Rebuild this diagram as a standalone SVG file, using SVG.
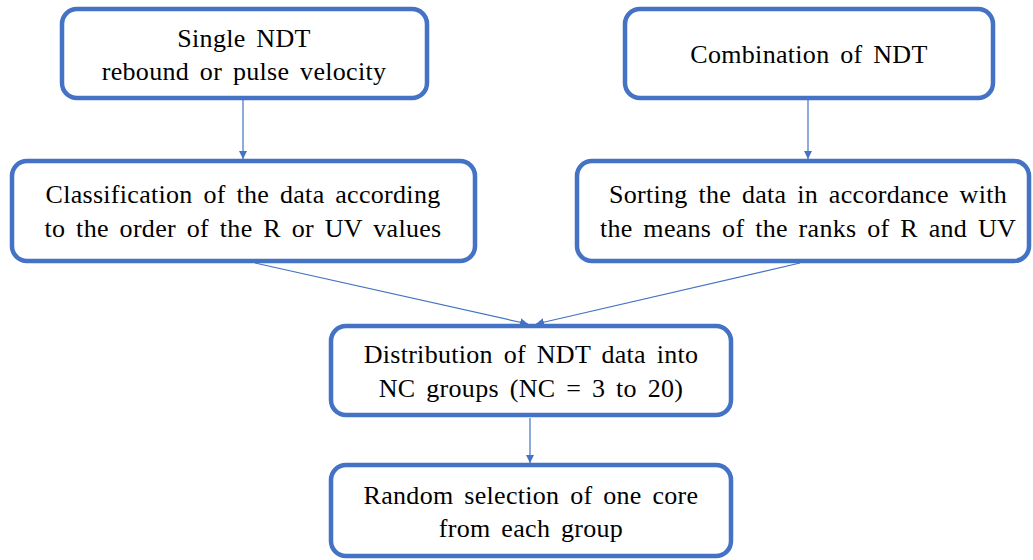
<svg xmlns="http://www.w3.org/2000/svg" width="1033" height="560" viewBox="0 0 1033 560">
<style>
.box{fill:#ffffff;stroke:#4472C4;stroke-width:4.5}
.t{font-family:'Liberation Serif','Times New Roman',serif;font-size:26px;fill:#000;text-anchor:middle;word-spacing:4px;letter-spacing:0.3px}
.c{stroke:#4472C4;stroke-width:1.2;fill:none}
</style>
<defs>
<marker id="ah" viewBox="0 0 10 10" refX="10" refY="5" markerWidth="8" markerHeight="8" markerUnits="userSpaceOnUse" orient="auto">
<path d="M0,0 L10,5 L0,10 z" fill="#4472C4"/>
</marker>
</defs>
<rect width="1033" height="560" fill="#ffffff"/>
<g id="connectors">
<line class="c" x1="243" y1="99" x2="243" y2="159" marker-end="url(#ah)"/>
<line class="c" x1="808" y1="99" x2="808" y2="159" marker-end="url(#ah)"/>
<line class="c" x1="255" y1="263" x2="528" y2="324" marker-end="url(#ah)"/>
<line class="c" x1="800" y1="263" x2="536" y2="324" marker-end="url(#ah)"/>
<line class="c" x1="530" y1="418" x2="530" y2="463" marker-end="url(#ah)"/>
</g>
<g id="n1">
<rect class="box" x="62" y="9" width="365" height="89" rx="15"/>
<text class="t" x="244" y="47">Single NDT</text>
<text class="t" x="244" y="80">rebound or pulse velocity</text>
</g>
<g id="n2">
<rect class="box" x="625" y="9" width="368" height="89" rx="15"/>
<text class="t" x="809" y="63">Combination of NDT</text>
</g>
<g id="n3">
<rect class="box" x="12" y="161" width="463" height="100" rx="15"/>
<text class="t" x="243" y="203">Classification of the data according</text>
<text class="t" x="243" y="237">to the order of the R or UV values</text>
</g>
<g id="n4">
<rect class="box" x="577" y="161" width="452" height="100" rx="15"/>
<text class="t" x="808" y="203">Sorting the data in accordance with</text>
<text class="t" x="808" y="237">the means of the ranks of R and UV</text>
</g>
<g id="n5">
<rect class="box" x="331" y="326" width="400" height="89" rx="15"/>
<text class="t" x="531" y="363">Distribution of NDT data into</text>
<text class="t" x="531" y="397">NC groups (NC = 3 to 20)</text>
</g>
<g id="n6">
<rect class="box" x="331" y="465" width="400" height="91" rx="15"/>
<text class="t" x="531" y="504">Random selection of one core</text>
<text class="t" x="531" y="537">from each group</text>
</g>
</svg>
